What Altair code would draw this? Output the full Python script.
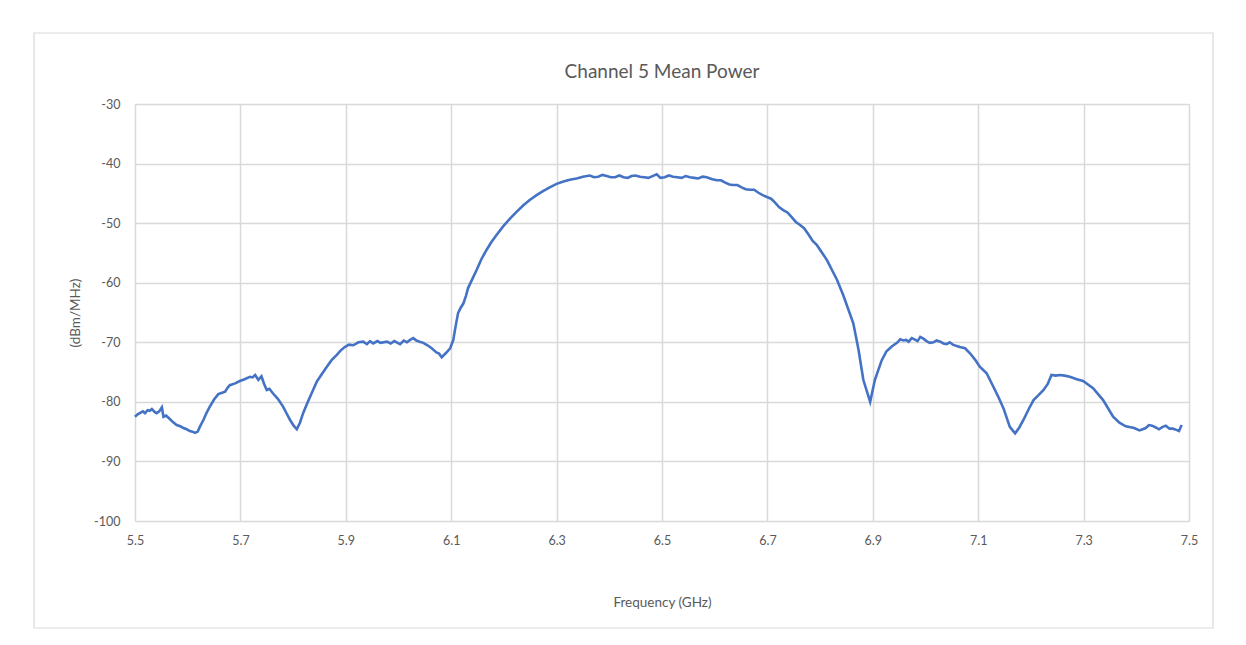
import altair as alt
import pandas as pd

freq_ghz = [
    5.500, 5.505, 5.509, 5.515, 5.519, 5.524, 5.528, 5.532, 5.537, 5.541, 5.546, 5.551, 5.554, 5.559,
    5.565, 5.572, 5.579, 5.586, 5.592, 5.598, 5.604, 5.609, 5.614, 5.619, 5.623, 5.630, 5.636, 5.642,
    5.650, 5.658, 5.664, 5.671, 5.676, 5.680, 5.690, 5.699, 5.708, 5.718, 5.723, 5.728, 5.734, 5.740,
    5.745, 5.750, 5.755, 5.762, 5.771, 5.781, 5.788, 5.794, 5.801, 5.807, 5.813, 5.819, 5.827, 5.835,
    5.840, 5.845, 5.854, 5.864, 5.873, 5.883, 5.890, 5.898, 5.906, 5.914, 5.924, 5.933, 5.940, 5.946,
    5.952, 5.960, 5.966, 5.978, 5.985, 5.992, 6.003, 6.010, 6.016, 6.022, 6.028, 6.034, 6.040, 6.047,
    6.055, 6.063, 6.072, 6.077, 6.082, 6.090, 6.098, 6.104, 6.108, 6.113, 6.118, 6.123, 6.128, 6.132,
    6.140, 6.148, 6.157, 6.167, 6.176, 6.186, 6.199, 6.212, 6.224, 6.237, 6.249, 6.262, 6.275, 6.287,
    6.300, 6.313, 6.325, 6.338, 6.350, 6.363, 6.379, 6.395, 6.411, 6.427, 6.442, 6.458, 6.474, 6.490,
    6.505, 6.521, 6.537, 6.553, 6.569, 6.585, 6.604, 6.620, 6.635, 6.651, 6.667, 6.683, 6.699, 6.715,
    6.730, 6.746, 6.762, 6.778, 6.794, 6.813, 6.832, 6.844, 6.863, 6.873, 6.882, 6.895, 6.904, 6.917,
    6.926, 6.936, 6.947, 6.958, 6.968, 6.979, 6.990, 7.002, 7.015, 7.028, 7.040, 7.052, 7.065, 7.084,
    7.094, 7.103, 7.116, 7.129, 7.139, 7.148, 7.160, 7.170, 7.178, 7.186, 7.196, 7.205, 7.214, 7.224,
    7.232, 7.239, 7.247, 7.255, 7.264, 7.274, 7.287, 7.299, 7.318, 7.337, 7.356, 7.368, 7.380, 7.396,
    7.412, 7.424, 7.437, 7.450, 7.463, 7.476, 7.486,
]

power_dbm_mhz = [
    -82.5, -82.1, -81.9, -81.6, -81.9, -81.4, -81.5, -81.2, -81.7, -81.9, -81.6, -80.9, -82.5, -82.3,
    -82.8, -83.4, -83.9, -84.1, -84.4, -84.6, -84.9, -85.0, -85.2, -85.0, -84.2, -83.0, -81.8, -80.8,
    -79.6, -78.7, -78.5, -78.3, -77.6, -77.2, -76.9, -76.5, -76.2, -75.8, -75.9, -75.5, -76.3, -75.7,
    -77.0, -78.0, -77.8, -78.6, -79.5, -80.8, -82.0, -83.0, -84.0, -84.6, -83.5, -81.9, -80.2, -78.6,
    -77.6, -76.6, -75.4, -74.1, -73.0, -72.1, -71.4, -70.8, -70.4, -70.5, -70.0, -69.9, -70.3, -69.8,
    -70.2, -69.8, -70.1, -69.9, -70.2, -69.8, -70.3, -69.7, -70.0, -69.6, -69.3, -69.7, -69.9, -70.1,
    -70.5, -71.0, -71.7, -71.9, -72.5, -71.8, -71.0, -69.6, -67.5, -65.1, -64.2, -63.5, -62.2, -60.9,
    -59.4, -57.9, -56.1, -54.5, -53.2, -52.0, -50.5, -49.2, -48.1, -47.0, -46.1, -45.3, -44.6, -44.0,
    -43.4, -43.0, -42.7, -42.5, -42.2, -42.0, -42.2, -42.1, -42.3, -42.3, -42.1, -42.2, -42.4, -41.8,
    -42.3, -42.2, -42.4, -42.3, -42.5, -42.3, -42.8, -43.2, -43.6, -44.0, -44.4, -44.9, -45.6, -46.6,
    -47.8, -49.0, -50.3, -51.9, -53.7, -56.2, -59.5, -62.1, -66.8, -71.3, -76.3, -80.0, -76.3, -73.0,
    -71.5, -70.7, -70.0, -69.7, -69.9, -69.5, -69.1, -69.8, -70.0, -69.9, -70.3, -70.4, -70.8, -71.8,
    -72.9, -74.1, -75.2, -77.5, -79.3, -81.1, -84.2, -85.3, -84.3, -83.0, -81.2, -79.7, -78.9, -78.0,
    -77.0, -75.5, -75.6, -75.5, -75.6, -75.8, -76.2, -76.5, -77.7, -79.7, -82.5, -83.5, -84.1, -84.4,
    -84.6, -83.9, -84.3, -84.2, -84.5, -84.7, -83.9,
]

# extra readings of the small ripple on the main lobe and side lobes
freq_ripple = [
    6.371, 6.387, 6.403, 6.419, 6.435, 6.450, 6.466, 6.482, 6.497, 6.513, 6.529, 6.545, 6.561, 6.577,
    6.594, 6.612, 6.628, 6.643, 6.659, 6.675, 6.691, 6.707, 6.722, 6.738, 6.754, 6.770, 6.786,
    6.952, 6.963, 6.974, 6.985, 6.996, 7.008, 7.021, 7.034, 7.046, 7.058, 7.075,
    7.406, 7.418, 7.430, 7.443, 7.456, 7.469, 7.481,
]
power_ripple = [
    -42.3, -41.9, -42.3, -42.0, -42.4, -42.0, -42.3, -42.1, -42.4, -42.0, -42.3, -42.1, -42.4, -42.2,
    -42.6, -42.8, -43.5, -43.6, -44.3, -44.4, -45.3, -45.9, -47.3, -48.2, -49.8, -50.9, -53.0,
    -69.5, -69.6, -69.3, -69.8, -69.4, -70.1, -69.7, -70.2, -70.0, -70.6, -71.0,
    -84.8, -84.4, -84.0, -84.6, -84.0, -84.5, -84.9,
]

x_ticks = [5.5, 5.7, 5.9, 6.1, 6.3, 6.5, 6.7, 6.9, 7.1, 7.3, 7.5]
y_ticks = [-100, -90, -80, -70, -60, -50, -40, -30]
chart_title = "Channel 5 Mean Power"

FONT = "Lato"
TEXT = "#595959"
GRID = "#d9d9d9"

df = pd.DataFrame({"freq": freq_ghz + freq_ripple, "power": power_dbm_mhz + power_ripple})

W, H = 1054, 417

border = alt.Chart(pd.DataFrame({"k": [0]})).mark_rect(
    fill="white", fillOpacity=0, stroke=GRID, strokeWidth=1.2
).encode(
    x=alt.value(-101), x2=alt.value(1078), y=alt.value(-71), y2=alt.value(524)
)

title = alt.Chart(pd.DataFrame({"t": [chart_title]})).mark_text(
    font=FONT, fontSize=19, color=TEXT, align="center", baseline="middle"
).encode(
    text="t:N", x=alt.value(W / 2), y=alt.value(-32)
)

line = alt.Chart(df).mark_line(color="#4472C4", strokeWidth=2.6).encode(
    x=alt.X(
        "freq:Q",
        sort=None,
        scale=alt.Scale(domain=[5.5, 7.5], nice=False, zero=False),
        axis=alt.Axis(
            values=x_ticks, format=".1f", title="Frequency (GHz)",
            grid=True, gridColor=GRID, gridWidth=1.5, domain=False, ticks=False, tickSize=0,
            labelFlush=False, labelOverlap=False,
            labelFont=FONT, labelFontSize=12.5, labelColor=TEXT, labelPadding=13,
            titleFont=FONT, titleFontSize=13.5, titleColor=TEXT, titleFontWeight="normal",
            titleY=74, titleBaseline="top",
        ),
    ),
    y=alt.Y(
        "power:Q",
        scale=alt.Scale(domain=[-100, -30], nice=False, zero=False),
        axis=alt.Axis(
            values=y_ticks, title="(dBm/MHz)", labelExpr="'' + datum.value",
            grid=True, gridColor=GRID, gridWidth=1.5, domain=False, ticks=False, tickSize=0,
            labelFlush=False, labelOverlap=False,
            labelFont=FONT, labelFontSize=12.5, labelColor=TEXT, labelPadding=15,
            titleFont=FONT, titleFontSize=13.5, titleColor=TEXT, titleFontWeight="normal",
            titleX=-60, titleY=H / 2, titleAlign="center", titleBaseline="middle", titleAngle=270,
        ),
    ),
    order=alt.Order("freq:Q"),
)

chart = alt.layer(border, title, line).properties(
    width=W,
    height=H,
    padding={"left": 127, "top": 96, "right": 40, "bottom": 115},
    autosize="none",
).configure_view(stroke=None).configure(background="white")

chart.save("out.html", embed_options={"renderer": "svg", "actions": False})
